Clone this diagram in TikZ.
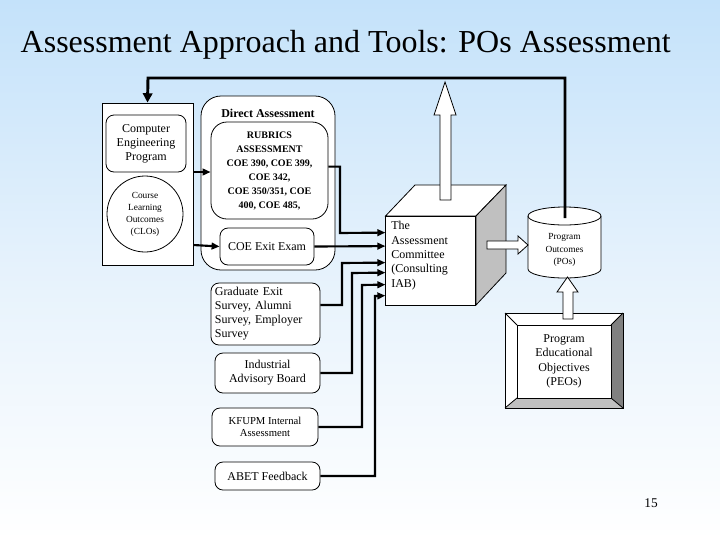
\documentclass[tikz,border=0pt]{standalone}
\usepackage{fontspec}
\setmainfont{Liberation Serif}
\usetikzlibrary{arrows.meta,calc}
\definecolor{bgtop}{RGB}{196,226,250}
\definecolor{bgmid}{RGB}{230,242,252}
\definecolor{gry}{RGB}{192,192,192}
\definecolor{dgry}{RGB}{128,128,128}
\begin{document}
\begin{tikzpicture}[x=0.75pt,y=-0.75pt,
  bx/.style={draw,fill=white,line width=0.6pt,rounded corners=6pt,align=center,inner sep=1pt,font=\fontsize{9}{10.5}\selectfont},
  conn/.style={line width=1.6pt,-{Triangle[length=6pt,width=5pt]}},
  hollow/.style={draw,fill=white,line width=0.6pt}]
\shade[top color=bgtop,bottom color=white,middle color=bgmid] (0,0) rectangle (720,540);
\useasboundingbox (0,0) rectangle (720,540);
\node[anchor=west,font=\fontsize{24}{28}\selectfont] (title) at (16,45) {Assessment Approach and Tools: POs Assessment};
% left box
\node[draw,fill=white,line width=0.6pt,minimum width=68.25pt,minimum height=121.5pt] (left) at (147.5,184) {};
\node[bx,minimum width=60pt,minimum height=42.75pt] (cep) at (146,143.5) {Computer\\Engineering\\Program};
\node[draw,fill=white,line width=0.6pt,circle,minimum size=57pt,align=center,inner sep=0pt,font=\fontsize{7}{9}\selectfont] (clo) at (145,214) {Course\\Learning\\Outcomes\\(CLOs)};
% direct assessment
\node[draw,fill=white,line width=0.6pt,rounded corners=15pt,minimum width=100.5pt,minimum height=130.5pt] (da) at (268,183) {};
\node[font=\bfseries\fontsize{9}{10}\selectfont] (dat) at (268,113) {Direct Assessment};
\node[bx,rounded corners=12pt,minimum width=87.75pt,minimum height=72.75pt,font=\bfseries\fontsize{7.5}{10.5}\selectfont] (rub) at (269.5,170.5) {RUBRICS\\ASSESSMENT\\COE 390, COE 399,\\COE 342,\\COE 350/351, COE\\400, COE 485,};
\node[bx,minimum width=70.5pt,minimum height=27.75pt] (exit) at (267,246.5) {COE Exit Exam};
\draw[conn] ($(left.east)+(0,-12)$) -- ($(rub.west)+(0,1.5)$);
\draw[conn] ($(left.east)+(0,61)$) -- (exit.west);
% other boxes
\node[bx,minimum width=81.75pt,minimum height=46.5pt,align=left,text width=76pt] (grad) at (265.5,314) {Graduate Exit\\Survey, Alumni\\Survey, Employer\\Survey};
\node[bx,minimum width=78.75pt,minimum height=30pt] (iab) at (267.5,373) {Industrial\\Advisory Board};
\node[bx,minimum width=79.5pt,minimum height=28.5pt,font=\fontsize{8}{9.5}\selectfont] (kfupm) at (265,427) {KFUPM Internal\\Assessment};
\node[bx,minimum width=78.75pt,minimum height=21pt] (abet) at (267.5,476) {ABET Feedback};
% cube
\draw[fill=white,line width=0.6pt] (385.5,216) -- (415,185) -- (506,185) -- (476,216) -- cycle;
\draw[fill=gry,line width=0.6pt] (476,216) -- (506,185) -- (506,273) -- (476,305) -- cycle;
\node[draw,fill=white,line width=0.6pt,minimum width=67.5pt,minimum height=66.75pt] (cube) at (430.75,260.5) {};
\node[anchor=north west,align=left,inner sep=0pt,font=\fontsize{9}{10.8}\selectfont] (cubet) at (391,221) {The\\Assessment\\Committee\\(Consulting\\IAB)};
% connectors
\draw[conn] ($(rub.north east)+(0,45)$) -| (340,233) -- ($(cube.north west)+(0,17)$);
\draw[conn] (exit.east) -- ($(cube.north west)+(0,30.5)$);
\draw[conn] ($(grad.east)+(0,-9)$) -| (342,263) -- ($(cube.north west)+(0,47)$);
\draw[conn] (iab.east) -| (352,273) -- ($(cube.north west)+(0,57)$);
\draw[conn] (kfupm.east) -| (362,285) -- ($(cube.north west)+(0,69)$);
\draw[conn] (abet.east) -| (375,296) -- ($(cube.north west)+(0,80)$);
% hollow up arrow
\path[hollow] (440,200) -- (440,115) -- (434,115) -- (445,82) -- (456,115) -- (451,115) -- (451,200) -- cycle;
% cylinder
\draw[fill=white,line width=0.6pt] (528,216) -- (528,269) arc[start angle=180,end angle=0,x radius=36.5,y radius=9] -- (601,216) arc[start angle=0,end angle=-180,x radius=36.5,y radius=9];
\draw[line width=0.6pt] (528,216) arc[start angle=180,end angle=0,x radius=36.5,y radius=9];
\node[align=center,font=\fontsize{7}{9.5}\selectfont] (pos) at (564.5,250) {Program\\Outcomes\\(POs)};
% feedback line
\draw[line width=2.2pt,-{Triangle[length=7pt,width=7pt]}] (565,218) -- (565,78) -- (148,78) -- (left.north);
% right hollow arrow
\path[hollow] (487,241) -- (518,241) -- (518,236) -- (528,245) -- (518,254) -- (518,249) -- (487,249) -- cycle;
% PEO
\fill[white] (505,313) rectangle (623,408);
\fill[dgry] (623,313) -- (623,408) -- (611,398) -- (611,325) -- cycle;
\fill[gry] (505,408) -- (623,408) -- (611,398) -- (517,398) -- cycle;
\draw[line width=0.6pt] (505,313) rectangle (623,408);
\draw[line width=0.6pt] (505,313) -- (517,325) (623,313) -- (611,325) (505,408) -- (517,398) (623,408) -- (611,398);
\node[draw,fill=white,line width=0.6pt,minimum width=70.5pt,minimum height=54.75pt,align=center,font=\fontsize{9}{10.8}\selectfont] (peo) at (564,361.5) {Program\\Educational\\Objectives\\(PEOs)};
\path[hollow] (563,319) -- (563,292) -- (557,292) -- (567.5,277) -- (578,292) -- (573,292) -- (573,319) -- cycle;
\node[font=\fontsize{10}{12}\selectfont] (pg) at (651,503) {15};
\end{tikzpicture}
\end{document}
